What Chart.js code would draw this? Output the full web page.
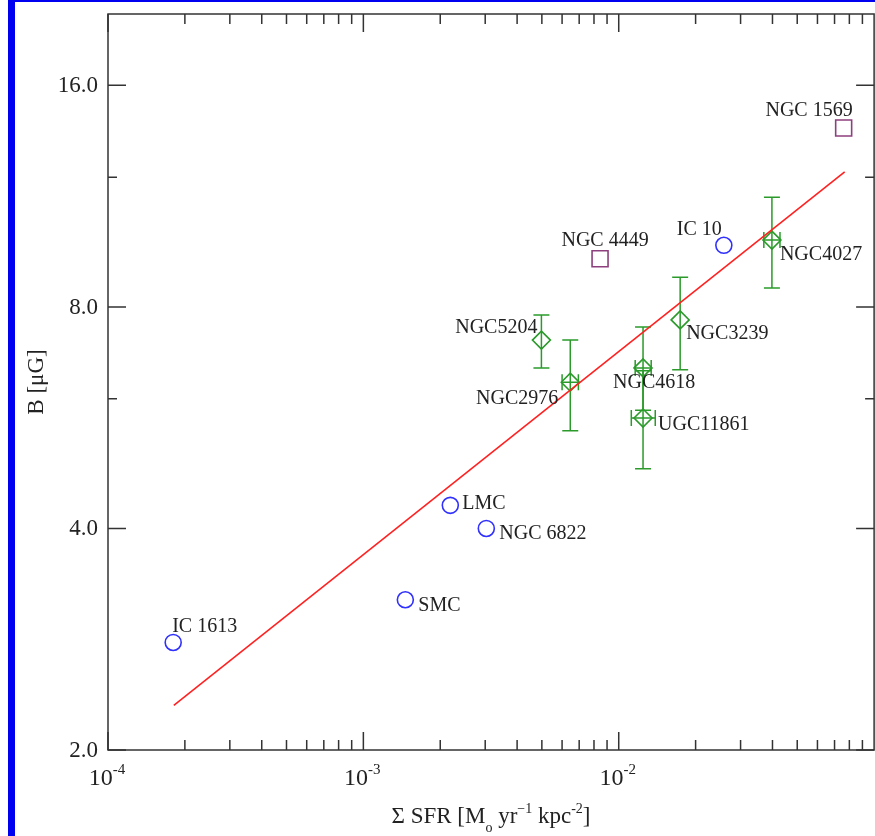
<!DOCTYPE html>
<html>
<head>
<meta charset="utf-8">
<script src="https://cdn.jsdelivr.net/npm/chart.js@4.4.1/dist/chart.umd.min.js"></script>
<style>
  html, body { margin: 0; padding: 0; background: #fff; overflow: hidden; }
  #wrap { position: absolute; left: 0; top: 0; width: 887px; height: 836px; }
  #blueLeft { position: absolute; left: 8px; top: 0; width: 7px; height: 836px; background: #0000f0; }
  #blueTop { position: absolute; left: 8px; top: 0; width: 880px; height: 2px; background: #0000f0; }
</style>
</head>
<body>
<div id="wrap"><canvas id="grafico" width="887" height="836"></canvas></div>
<div id="blueLeft"></div>
<div id="blueTop"></div>
<script>
// axis ticks
const xMajorTicks = [1e-4, 1e-3, 1e-2];
const xTickExps = ["-4", "-3", "-2"];
const yMajorTicks = [2, 4, 8, 16];
const yMinorTicks = [6, 12];

// dwarf galaxies (blue circles)
const blueNames = ["IC 1613", "SMC", "LMC", "NGC 6822", "IC 10"];
const blueSfr = [1.8e-4, 1.46e-3, 2.19e-3, 3.03e-3, 2.58e-2];
const blueB = [2.8, 3.2, 4.3, 4.0, 9.7];

// starbursts (purple squares)
const purpleNames = ["NGC 4449", "NGC 1569"];
const purpleSfr = [8.45e-3, 7.6e-2];
const purpleB = [9.3, 14.0];

// green diamonds with errors
const greenNames = ["NGC5204", "NGC2976", "NGC4618", "UGC11861", "NGC3239", "NGC4027"];
const greenSfr = [4.98e-3, 6.46e-3, 1.245e-2, 1.245e-2, 1.74e-2, 3.98e-2];
const greenB = [7.21, 6.32, 6.61, 5.65, 7.68, 9.86];
const greenBLo = [6.61, 5.43, 5.79, 4.82, 6.57, 8.49];
const greenBHi = [7.80, 7.21, 7.51, 6.55, 8.78, 11.27];
const greenSfrLo = [null, 6.0e-3, 1.16e-2, 1.12e-2, null, 3.70e-2];
const greenSfrHi = [null, 6.95e-3, 1.34e-2, 1.39e-2, null, 4.28e-2];

// fitted relation
const fitSfr = [1.81e-4, 7.67e-2];
const fitB = [2.30, 12.2];

// label placement (pixels from the marker): dx, dy, align
const blueLabelPos = [[-1, -16, "left"], [13, 6, "left"], [12, -2, "left"], [13, 5, "left"], [-2, -16, "right"]];
const purpleLabelPos = [[5, -18, "center"], [9, -17, "right"]];
const greenLabelPos = [[-4, -12, "right"], [-12, 17, "right"], [-30, 15, "left"], [15, 7, "left"], [6, 14, "left"], [8, 15, "left"]];

const GREEN = "#2a9a2a";
const BLUE = "#3030ff";
const PURPLE = "#8e3f7e";
const INK = "#222";
const SERIF = "'Liberation Serif', 'DejaVu Serif', serif";

function pts(xs, ys) {
  return xs.map((x, i) => ({ x: x, y: ys[i] }));
}

function drawRich(ctx, parts, cx, baseline, size) {
  // parts: [text, mode] with mode n / sup / sub
  let total = 0;
  parts.forEach(p => {
    ctx.font = (p[1] === "n" ? size : Math.round(size * 0.62)) + "px " + SERIF;
    total += ctx.measureText(p[0]).width;
  });
  let x = cx - total / 2;
  ctx.textAlign = "left";
  ctx.textBaseline = "alphabetic";
  parts.forEach(p => {
    const s = p[1] === "n" ? size : Math.round(size * 0.62);
    ctx.font = s + "px " + SERIF;
    let y = baseline;
    if (p[1] === "sup") y = baseline - size * 0.45;
    if (p[1] === "sub") y = baseline + size * 0.38;
    ctx.fillText(p[0], x, y);
    x += ctx.measureText(p[0]).width;
  });
}

const errorBars = {
  id: "errorBars",
  beforeDatasetsDraw(chart) {
    const ctx = chart.ctx;
    const xs = chart.scales.x, ys = chart.scales.y;
    ctx.save();
    ctx.strokeStyle = GREEN;
    ctx.lineWidth = 1.5;
    const cap = 8;
    greenSfr.forEach((s, i) => {
      const px = xs.getPixelForValue(s);
      const py = ys.getPixelForValue(greenB[i]);
      const t = ys.getPixelForValue(greenBHi[i]);
      const b = ys.getPixelForValue(greenBLo[i]);
      ctx.beginPath();
      ctx.moveTo(px, t); ctx.lineTo(px, b);
      ctx.moveTo(px - cap, t); ctx.lineTo(px + cap, t);
      ctx.moveTo(px - cap, b); ctx.lineTo(px + cap, b);
      if (greenSfrLo[i] !== null) {
        const l = xs.getPixelForValue(greenSfrLo[i]);
        const r = xs.getPixelForValue(greenSfrHi[i]);
        ctx.moveTo(l, py); ctx.lineTo(r, py);
        ctx.moveTo(l, py - cap); ctx.lineTo(l, py + cap);
        ctx.moveTo(r, py - cap); ctx.lineTo(r, py + cap);
      }
      ctx.stroke();
    });
    ctx.restore();
  }
};

const frameAndText = {
  id: "frameAndText",
  afterDraw(chart) {
    const ctx = chart.ctx;
    const a = chart.chartArea;
    const xs = chart.scales.x, ys = chart.scales.y;
    ctx.save();
    ctx.strokeStyle = "#333";
    ctx.lineWidth = 1.5;
    ctx.strokeRect(a.left, a.top, a.right - a.left, a.bottom - a.top);

    // x ticks, bottom and top, pointing inwards
    ctx.beginPath();
    for (let d = -4; d <= -2; d++) {
      for (let k = 1; k <= 9; k++) {
        const px = xs.getPixelForValue(k * Math.pow(10, d));
        const len = k === 1 ? 18 : 10;
        ctx.moveTo(px, a.bottom); ctx.lineTo(px, a.bottom - len);
        ctx.moveTo(px, a.top); ctx.lineTo(px, a.top + len);
      }
    }
    // y ticks, left and right
    yMajorTicks.concat(yMinorTicks).forEach(v => {
      const py = ys.getPixelForValue(v);
      const len = yMajorTicks.includes(v) ? 18 : 9;
      ctx.moveTo(a.left, py); ctx.lineTo(a.left + len, py);
      ctx.moveTo(a.right, py); ctx.lineTo(a.right - len, py);
    });
    ctx.stroke();

    ctx.fillStyle = INK;
    // y tick labels
    ctx.font = "23px " + SERIF;
    ctx.textAlign = "right";
    ctx.textBaseline = "middle";
    yMajorTicks.forEach(v => {
      ctx.fillText(v.toFixed(1), a.left - 10, ys.getPixelForValue(v) + 1);
    });
    // x tick labels 10^n
    xMajorTicks.forEach((v, i) => {
      drawRich(ctx, [["10", "n"], [xTickExps[i], "sup"]], xs.getPixelForValue(v) - 1, a.bottom + 35, 24);
    });

    // axis titles
    drawRich(ctx, [["\u03A3 SFR [M", "n"], ["o", "sub"], [" yr", "n"], ["\u22121", "sup"],
      [" kpc", "n"], ["-2", "sup"], ["]", "n"]], 491, 823, 23);
    ctx.save();
    ctx.translate(43, 382);
    ctx.rotate(-Math.PI / 2);
    ctx.font = "23px " + SERIF;
    ctx.textAlign = "center";
    ctx.textBaseline = "alphabetic";
    ctx.fillText("B [\u03BCG]", 0, 0);
    ctx.restore();

    // point labels
    ctx.font = "20px " + SERIF;
    ctx.textBaseline = "middle";
    const put = (names, sx, by, pos) => {
      names.forEach((n, i) => {
        ctx.textAlign = pos[i][2];
        ctx.fillText(n, xs.getPixelForValue(sx[i]) + pos[i][0], ys.getPixelForValue(by[i]) + pos[i][1]);
      });
    };
    put(blueNames, blueSfr, blueB, blueLabelPos);
    put(purpleNames, purpleSfr, purpleB, purpleLabelPos);
    put(greenNames, greenSfr, greenB, greenLabelPos);
    ctx.restore();
  }
};

document.addEventListener("DOMContentLoaded", function () {
  let ctx = document.getElementById("grafico").getContext("2d");

  new Chart(ctx, {
    type: "scatter",
    data: {
      datasets: [
        {
          label: "fit",
          data: pts(fitSfr, fitB),
          showLine: true,
          borderColor: "#ff2020",
          borderWidth: 1.6,
          pointRadius: 0,
          fill: false,
        },
        {
          label: "dwarfs",
          data: pts(blueSfr, blueB),
          pointStyle: "circle",
          pointRadius: 8,
          borderColor: BLUE,
          backgroundColor: "rgba(0,0,0,0)",
          borderWidth: 1.6,
        },
        {
          label: "starbursts",
          data: pts(purpleSfr, purpleB),
          pointStyle: "rect",
          pointRadius: 11.3,
          borderColor: PURPLE,
          backgroundColor: "rgba(0,0,0,0)",
          borderWidth: 1.6,
        },
        {
          label: "irregulars",
          data: pts(greenSfr, greenB),
          pointStyle: "rectRot",
          pointRadius: 9,
          borderColor: GREEN,
          backgroundColor: "rgba(0,0,0,0)",
          borderWidth: 1.6,
        },
      ],
    },
    options: {
      responsive: false,
      animation: false,
      layout: { padding: { left: 108, top: 14, right: 6, bottom: 86 } },
      plugins: { legend: { display: false }, tooltip: { enabled: false } },
      scales: {
        x: { type: "logarithmic", min: 1e-4, max: 1e-1, display: false },
        y: { type: "logarithmic", min: 2, max: 20, display: false },
      },
    },
    plugins: [errorBars, frameAndText],
  });
});
</script>
</body>
</html>
